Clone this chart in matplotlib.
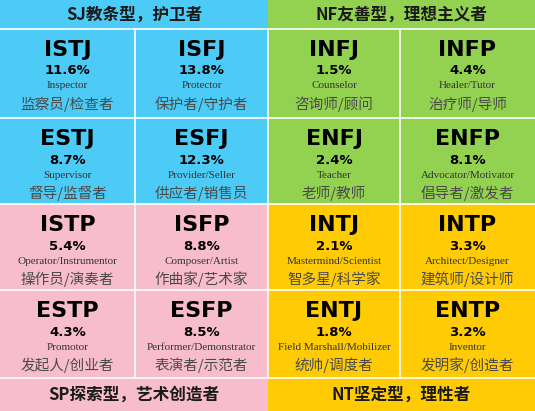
import matplotlib
matplotlib.use("Agg")
import matplotlib.pyplot as plt
from matplotlib.patches import Rectangle

plt.rcParams['font.family'] = ['Noto Sans CJK SC', 'DejaVu Sans']

# data, row by row (4 x 4 grid)
types = ["ISTJ", "ISFJ", "INFJ", "INFP",
         "ESTJ", "ESFJ", "ENFJ", "ENFP",
         "ISTP", "ISFP", "INTJ", "INTP",
         "ESTP", "ESFP", "ENTJ", "ENTP"]
pcts = [11.6, 13.8, 1.5, 4.4,
        8.7, 12.3, 2.4, 8.1,
        5.4, 8.8, 2.1, 3.3,
        4.3, 8.5, 1.8, 3.2]
roles_en = ["Inspector", "Protector", "Counselor", "Healer/Tutor",
            "Supervisor", "Provider/Seller", "Teacher", "Advocator/Motivator",
            "Operator/Instrumentor", "Composer/Artist", "Mastermind/Scientist", "Architect/Designer",
            "Promotor", "Performer/Demonstrator", "Field Marshall/Mobilizer", "Inventor"]
roles_cn = ["监察员/检查者", "保护者/守护者", "咨询师/顾问", "治疗师/导师",
            "督导/监督者", "供应者/销售员", "老师/教师", "倡导者/激发者",
            "操作员/演奏者", "作曲家/艺术家", "智多星/科学家", "建筑师/设计师",
            "发起人/创业者", "表演者/示范者", "统帅/调度者", "发明家/创造者"]
group_titles = ["SJ教条型，护卫者", "NF友善型，理想主义者", "SP探索型，艺术创造者", "NT坚定型，理性者"]
group_colors = ["#4CCBF6", "#93D151", "#F7BDCC", "#FFCB05"]

W, H = 535, 411
xs = [0, 135, 268, 400, 535]
ys = [29, 118, 204, 290, 378]

fig = plt.figure(figsize=(W / 100, H / 100), dpi=100)
ax = fig.add_axes([0, 0, 1, 1])
ax.set_xlim(0, W)
ax.set_ylim(H, 0)
ax.axis('off')

# quadrant backgrounds
quads = [(0, 0, 268, 204), (268, 0, 535, 204), (0, 204, 268, 411), (268, 204, 535, 411)]
for (x0, y0, x1, y1), c in zip(quads, group_colors):
    ax.add_patch(Rectangle((x0, y0), x1 - x0, y1 - y0, color=c, lw=0))

# header / footer titles
title_pos = [(134, 15), (401, 15), (134, 395), (401, 395)]
for (tx, ty), t in zip(title_pos, group_titles):
    ax.text(tx, ty, t, ha='center', va='center', fontsize=12, fontweight='bold', color='#1a1a1a')

# grid lines
for y in ys:
    ax.plot([0, W], [y, y], color='white', lw=1.2)
for x in xs[1:-1]:
    ax.plot([x, x], [ys[0], ys[-1]], color='white', lw=1.2)

for i in range(16):
    r, c = divmod(i, 4)
    cx = (xs[c] + xs[c + 1]) / 2
    y0 = ys[r]
    ax.text(cx, y0 + 21, types[i], ha='center', va='center', fontsize=16, fontweight='bold',
            family='DejaVu Sans', color='black')
    ax.text(cx, y0 + 42, f"{pcts[i]}%", ha='center', va='center', fontsize=9.5, fontweight='bold',
            family='DejaVu Sans', color='black')
    ax.text(cx, y0 + 57, roles_en[i], ha='center', va='center', fontsize=8, family='Liberation Serif', color='#333333')
    ax.text(cx, y0 + 75, roles_cn[i], ha='center', va='center', fontsize=10.5, color='#4a4a4a')

fig.savefig('out.png', dpi=100)
